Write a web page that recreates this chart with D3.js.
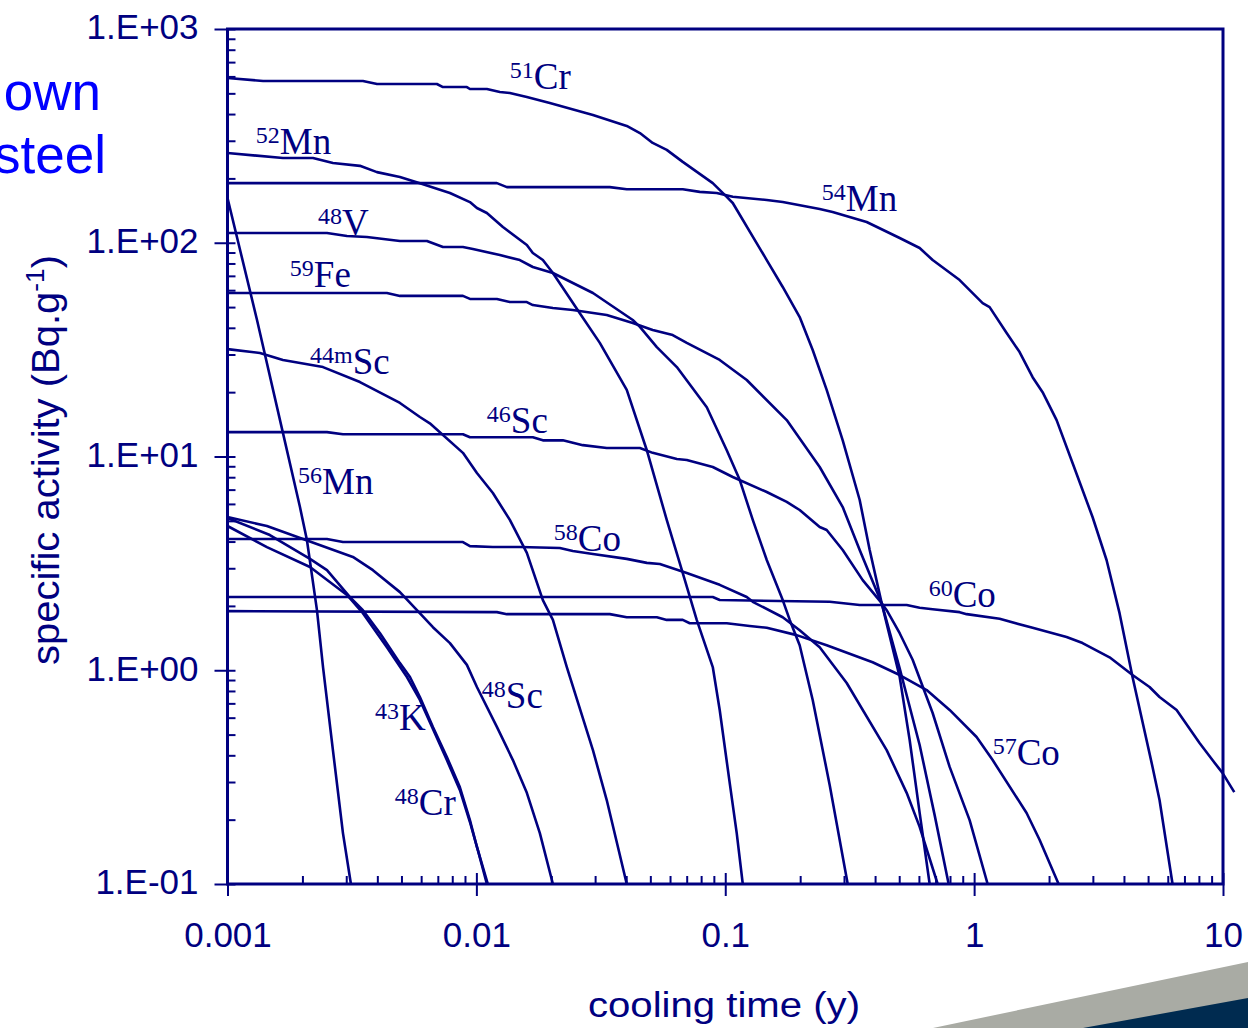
<!DOCTYPE html>
<html><head><meta charset="utf-8">
<script src="https://cdn.jsdelivr.net/npm/d3@7"></script>
<style>body{margin:0;background:#fff;} svg{display:block}</style>
</head><body>
<svg id="chart" width="1248" height="1028"></svg>
<script>
// ---- tick values / labels ----
const xTicks = [0.001, 0.01, 0.1, 1, 10];
const xTickLabels = ["0.001", "0.01", "0.1", "1", "10"];
const yTicks = [0.1, 1, 10, 100, 1000];
const yTickLabels = ["1.E-01", "1.E+00", "1.E+01", "1.E+02", "1.E+03"];

// ---- series: [cooling time (y), specific activity (Bq/g)] ----
const cr51 = [[0.001,590],[0.00139,571],[0.0035,571],[0.00399,553],[0.00694,553],[0.00734,535],[0.00916,535],[0.00942,524],[0.01102,524],[0.01243,507],[0.01363,502],[0.01595,481],[0.01973,451],[0.0294,396],[0.0402,352],[0.0454,326],[0.0511,293],[0.0582,272],[0.0675,239],[0.0891,190],[0.1014,164],[0.1072,153.5],[0.1468,83],[0.1702,62.1],[0.1991,44.9],[0.2246,31.5],[0.2556,20.5],[0.2965,11.9],[0.3469,6.26],[0.3805,3.65],[0.4251,2.06],[0.5022,0.93],[0.5508,0.472],[0.6041,0.215],[0.6627,0.1]];
const mn54 = [[0.001,190],[0.01209,190],[0.01326,182],[0.03436,182],[0.0402,178],[0.0675,178],[0.079,173],[0.0924,171],[0.1072,164],[0.1468,158.5],[0.1702,155],[0.2396,143.8],[0.270,139.3],[0.370,125],[0.5022,105.2],[0.6041,94.5],[0.6813,83],[0.8746,66.9],[1.082,52.2],[1.154,50.0],[1.351,37.8],[1.523,30.8],[1.718,23.5],[1.884,20.0],[2.145,14.8],[2.486,9.32],[2.991,5.21],[3.405,3.28],[3.84,1.85],[4.33,0.93],[5.21,0.353],[5.559,0.247],[6.27,0.1]];
const mn52 = [[0.001,263],[0.00167,249],[0.002205,249],[0.002652,236],[0.003405,229],[0.003985,214],[0.00493,203],[0.00593,190],[0.00783,171],[0.00942,155],[0.01005,145.4],[0.01102,137.8],[0.01278,118.5],[0.01595,97.6],[0.01686,89.5],[0.0185,83],[0.0203,72.2],[0.026,46.9],[0.03133,34],[0.0402,20.5],[0.0484,10.7],[0.0582,5.05],[0.0675,2.85],[0.0768,1.72],[0.0891,1.035],[0.095,0.652],[0.1042,0.297],[0.1112,0.173],[0.1176,0.1]];
const v48 = [[0.001,111.1],[0.00251,111.1],[0.00302,107.5],[0.00363,106.4],[0.00493,101.9],[0.00633,101.9],[0.00734,95.5],[0.00883,95.5],[0.00968,93.5],[0.01243,87.6],[0.01495,83],[0.01686,77],[0.0203,72.2],[0.0294,58.2],[0.0425,43.5],[0.0454,40.4],[0.0531,32.5],[0.0639,26.2],[0.0843,17.0],[0.1014,10.7],[0.1144,7.76],[0.129,5.05],[0.1468,3.28],[0.1702,2.13],[0.1816,1.72],[0.1991,1.31],[0.2246,0.726],[0.2629,0.29],[0.3105,0.1]];
const fe59 = [[0.001,58.2],[0.00437,58.2],[0.00493,56.4],[0.00883,56.4],[0.00942,54.6],[0.01209,54.6],[0.01363,52.8],[0.01595,52.8],[0.01686,51.1],[0.0203,49.5],[0.0244,48.5],[0.0334,45.9],[0.0425,42.1],[0.0511,39.1],[0.0615,37],[0.07005,34],[0.095,28.3],[0.122,22.8],[0.1766,14.8],[0.2396,8.93],[0.2965,5.8],[0.3469,3.65],[0.4251,2.06],[0.5022,1.02],[0.6041,0.447],[0.694,0.21],[0.79,0.1]];
const sc44m = [[0.001,31.8],[0.00135,30.5],[0.00167,28.3],[0.00242,26.2],[0.003405,22.3],[0.00493,17.8],[0.00593,15.3],[0.0065,14.3],[0.00883,10.4],[0.01005,8.37],[0.01165,6.75],[0.01363,5.05],[0.01595,3.54],[0.0185,2.13],[0.0203,1.72],[0.02309,1.035],[0.0294,0.423],[0.0334,0.247],[0.0402,0.1]];
const sc46 = [[0.001,13.0],[0.00251,13.0],[0.00291,12.7],[0.00883,12.7],[0.00942,12.3],[0.01686,12.3],[0.0185,11.9],[0.02226,11.9],[0.02677,11.3],[0.0334,10.96],[0.0454,10.96],[0.0511,10.4],[0.0639,9.73],[0.07005,9.63],[0.0891,8.93],[0.1072,8.02],[0.1468,6.82],[0.1766,6.13],[0.1991,5.62],[0.2396,4.68],[0.2556,4.53],[0.2965,3.65],[0.3567,2.64],[0.4251,2.06],[0.4453,1.91],[0.5022,1.49],[0.5662,1.12],[0.6813,0.631],[0.7973,0.353],[0.9592,0.199],[1.133,0.1]];
const mn56 = [[0.001,162],[0.001314,43.5],[0.00167,12.9],[0.001955,5.8],[0.002085,4.07],[0.002288,1.91],[0.00242,1.035],[0.002652,0.423],[0.00291,0.173],[0.003133,0.1]];
const sc48 = [[0.001,5.21],[0.00144,4.73],[0.00201,4.11],[0.00319,3.39],[0.00384,2.94],[0.00493,2.32],[0.00577,1.91],[0.00669,1.59],[0.00783,1.34],[0.00916,1.06],[0.01005,0.835],[0.01209,0.543],[0.01402,0.38],[0.01595,0.267],[0.01799,0.173],[0.0203,0.1]];
const k43 = [[0.001,5.16],[0.00148,4.29],[0.002145,3.32],[0.00251,2.94],[0.003105,2.2],[0.0035,1.91],[0.0041,1.49],[0.00493,1.08],[0.00541,0.93],[0.00593,0.75],[0.00669,0.543],[0.00761,0.393],[0.00858,0.284],[0.00942,0.199],[0.01005,0.149],[0.01112,0.1]];
const cr48 = [[0.001,4.73],[0.00144,3.77],[0.002145,3.04],[0.00302,2.25],[0.0035,1.85],[0.00437,1.28],[0.00526,0.93],[0.00593,0.726],[0.00669,0.531],[0.00761,0.38],[0.00858,0.2754],[0.00942,0.195],[0.01014,0.144],[0.01102,0.1]];
const co58 = [[0.001,4.11],[0.00251,4.11],[0.00291,3.98],[0.00883,3.98],[0.00942,3.81],[0.01165,3.77],[0.01495,3.77],[0.02164,3.73],[0.0244,3.61],[0.0294,3.5],[0.0402,3.32],[0.0484,3.18],[0.0546,3.14],[0.07005,2.85],[0.095,2.51],[0.122,2.2],[0.129,2.09],[0.1702,1.77],[0.1991,1.54],[0.2396,1.28],[0.3076,0.872],[0.4453,0.423],[0.5357,0.267],[0.6041,0.185],[0.7136,0.1]];
const co60 = [[0.001,2.2],[0.0891,2.2],[0.095,2.13],[0.2629,2.09],[0.3469,2.02],[0.5357,2.02],[0.6041,1.96],[0.6813,1.93],[0.8746,1.87],[0.9331,1.83],[1.266,1.74],[1.718,1.58],[2.352,1.43],[2.727,1.34],[3.501,1.15],[4.33,0.95],[5.068,0.835],[5.559,0.75],[6.51,0.652],[8.05,0.457],[9.07,0.38],[9.95,0.331],[11.1,0.269]];
const co57 = [[0.001,1.89],[0.01209,1.87],[0.01326,1.83],[0.03436,1.83],[0.0402,1.77],[0.0531,1.77],[0.0582,1.72],[0.0675,1.72],[0.072,1.66],[0.1014,1.66],[0.1254,1.61],[0.1468,1.58],[0.1937,1.46],[0.2556,1.31],[0.391,1.09],[0.5022,0.95],[0.6446,0.808],[0.7973,0.652],[1.023,0.487],[1.187,0.38],[1.625,0.215],[1.832,0.161],[2.185,0.1]];

const series = [cr51, mn54, mn52, v48, fe59, sc44m, sc46, mn56, sc48, k43, cr48, co58, co60, co57];

// ---- nuclide labels (mass number, element, anchor in data units) ----
const labelMass = ["51","52","54","48","59","44m","46","56","58","60","48","43","48","57"];
const labelElem = ["Cr","Mn","Mn","V","Fe","Sc","Sc","Mn","Co","Co","Sc","K","Cr","Co"];
const labelT = [0.01363,0.0013,0.2442,0.00231,0.00178,0.002145,0.01102,0.00192,0.02048,0.6568,0.01052,0.00391,0.0047,1.187];
const labelA = [524,260,140.8,108.7,62.1,24.3,12.9,6.68,3.61,1.98,0.666,0.525,0.21,0.36];

// ---- drawing ----
const navy = "#000080";
const svg = d3.select("#chart");
const x = d3.scaleLog().domain([0.001, 10]).range([227.5, 1223]);
const y = d3.scaleLog().domain([0.1, 1000]).range([884, 29]);

const minorOf = decs => decs.flatMap(d => d3.range(2, 10).map(k => k * d));
const xMinor = minorOf([0.001, 0.01, 0.1, 1]);
const yMinor = minorOf([0.1, 1, 10, 100]);

// slide decoration
svg.append("polygon").attr("points", "933,1028 1248,962 1248,1028").attr("fill", "#a9aba4");
svg.append("polygon").attr("points", "1083,1028 1248,998 1248,1028").attr("fill", "#002b50");

svg.append("text").attr("x", 101).attr("y", 110).attr("text-anchor", "end")
  .attr("font-family", "Liberation Sans, Arial, sans-serif").attr("font-size", 53).attr("fill", "#0000ff").text("own");
svg.append("text").attr("x", 106).attr("y", 173).attr("text-anchor", "end")
  .attr("font-family", "Liberation Sans, Arial, sans-serif").attr("font-size", 53).attr("fill", "#0000ff").text("steel");

const tickFont = "Liberation Sans, Arial, sans-serif";
function styleAxis(g) {
  g.attr("color", navy).attr("font-family", tickFont).attr("font-size", 35);
  g.select(".domain").remove();
  g.selectAll(".tick line").attr("stroke-width", 2);
  g.selectAll(".tick text").attr("fill", navy);
}

svg.append("g").attr("transform", "translate(227.5,0)")
  .call(d3.axisLeft(y).tickValues(yMinor).tickSize(-8).tickFormat(""))
  .call(styleAxis);
const gy = svg.append("g").attr("transform", "translate(227.5,0)")
  .call(d3.axisLeft(y).tickValues(yTicks).tickSize(13).tickPadding(16).tickFormat((d, i) => yTickLabels[i]))
  .call(styleAxis);
gy.selectAll(".tick line").attr("x1", 8);
gy.selectAll(".tick text").attr("dy", "0.28em");

svg.append("g").attr("transform", "translate(0,884)")
  .call(d3.axisBottom(x).tickValues(xMinor).tickSize(-8).tickFormat(""))
  .call(styleAxis);
const gx = svg.append("g").attr("transform", "translate(0,884)")
  .call(d3.axisBottom(x).tickValues(xTicks).tickSize(12).tickPadding(27).tickFormat((d, i) => xTickLabels[i]))
  .call(styleAxis);
gx.selectAll(".tick line").attr("y1", -11);
gx.selectAll(".tick text").attr("dy", "0.69em");

// frame
svg.append("rect").attr("x", x(0.001)).attr("y", y(1000))
  .attr("width", x(10) - x(0.001)).attr("height", y(0.1) - y(1000))
  .attr("fill", "none").attr("stroke", navy).attr("stroke-width", 3);

// curves
const line = d3.line().x(d => x(d[0])).y(d => y(d[1]));
svg.append("g").selectAll("path").data(series).join("path")
  .attr("d", line).attr("fill", "none").attr("stroke", navy)
  .attr("stroke-width", 2.6).attr("stroke-linejoin", "round");

// nuclide labels
const lg = svg.append("g").attr("font-family", "Liberation Serif, Times New Roman, serif").attr("fill", navy);
labelMass.forEach((m, i) => {
  const t = lg.append("text").attr("x", x(labelT[i])).attr("y", y(labelA[i]));
  t.append("tspan").attr("font-size", 24).attr("dy", -11).text(m);
  t.append("tspan").attr("font-size", 37).attr("dy", 11).text(labelElem[i]);
});

// axis titles
svg.append("text").attr("x", 724).attr("y", 1017).attr("text-anchor", "middle")
  .attr("font-family", tickFont).attr("font-size", 35).attr("fill", navy)
  .attr("textLength", 272).attr("lengthAdjust", "spacingAndGlyphs")
  .text("cooling time (y)");

const yt = svg.append("text").attr("transform", "translate(59,460) rotate(-90)")
  .attr("text-anchor", "middle").attr("font-family", tickFont).attr("font-size", 38).attr("fill", navy)
  .attr("textLength", 410).attr("lengthAdjust", "spacingAndGlyphs");
yt.append("tspan").text("specific activity (Bq.g");
yt.append("tspan").attr("font-size", 25).attr("dy", -15).text("-1");
yt.append("tspan").attr("dy", 15).text(")");
</script>
</body></html>
